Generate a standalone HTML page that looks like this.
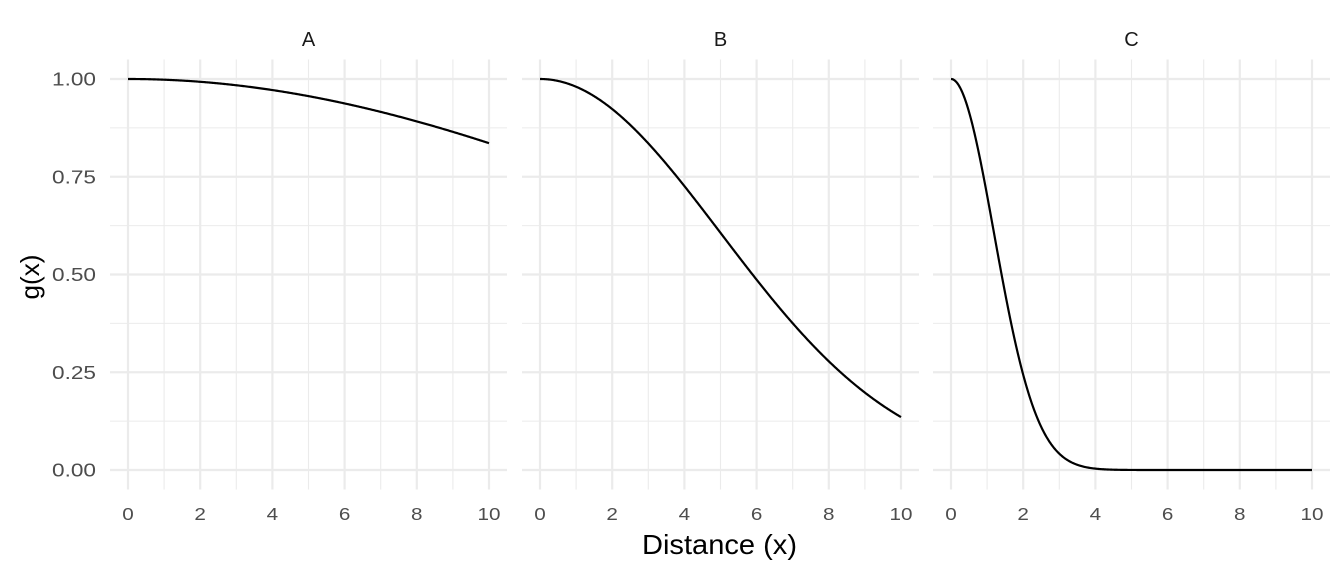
<!DOCTYPE html>
<html><head><style>body{margin:0;background:#fff}</style></head><body>
<svg id="s" width="1344" height="576" xmlns="http://www.w3.org/2000/svg" font-family="Liberation Sans, sans-serif"></svg>
<script>
const s=document.getElementById('s');let h='';
const y0=470,ys=391;const Y=v=>y0-v*ys;
const panels=[{l:'A',x0:128,sig:16.7},{l:'B',x0:540,sig:5.0},{l:'C',x0:951,sig:1.19}];
const xs=36.1;
const LA='lengthAdjust="spacingAndGlyphs"';
for(const p of panels){
 const L=p.x0-18,R=p.x0+361+18,T=59.5,B=489.5;
 for(let v=0.125;v<1;v+=0.25)h+=`<line x1="${L}" x2="${R}" y1="${Y(v)}" y2="${Y(v)}" stroke="#ebebeb" stroke-width="1.1"/>`;
 for(let x=1;x<10;x+=2)h+=`<line x1="${p.x0+x*xs}" x2="${p.x0+x*xs}" y1="${T}" y2="${B}" stroke="#ebebeb" stroke-width="1.1"/>`;
 for(let v=0;v<=1;v+=0.25)h+=`<line x1="${L}" x2="${R}" y1="${Y(v)}" y2="${Y(v)}" stroke="#ebebeb" stroke-width="2.2"/>`;
 for(let x=0;x<=10;x+=2){h+=`<line x1="${p.x0+x*xs}" x2="${p.x0+x*xs}" y1="${T}" y2="${B}" stroke="#ebebeb" stroke-width="2.2"/>`;
  h+=`<text x="${p.x0+x*xs}" y="520" font-size="17.5" fill="#4d4d4d" text-anchor="middle" textLength="${x==10?23:11.5}" ${LA}>${x}</text>`;}
 let d='';for(let i=0;i<=400;i++){const x=i/40;const g=Math.exp(-x*x/(2*p.sig*p.sig));d+=(i?'L':'M')+(p.x0+x*xs).toFixed(2)+' '+Y(g).toFixed(2);}
 h+=`<path d="${d}" fill="none" stroke="#000" stroke-width="2.2"/>`;
 h+=`<text x="${p.x0+180.5}" y="46" font-size="20" fill="#1a1a1a" text-anchor="middle">${p.l}</text>`;
}
['0.00','0.25','0.50','0.75','1.00'].forEach((t,i)=>h+=`<text x="96" y="${Y(i*0.25)+6.5}" font-size="18" fill="#4d4d4d" text-anchor="end" textLength="44" ${LA}>${t}</text>`);
h+=`<text x="719.5" y="554" font-size="28" fill="#000" text-anchor="middle" textLength="155" ${LA}>Distance (x)</text>`;
h+=`<text transform="translate(39,277) rotate(-90)" font-size="26" fill="#000" text-anchor="middle" textLength="45" ${LA}>g(x)</text>`;
s.innerHTML=h;
</script>
</body></html>
